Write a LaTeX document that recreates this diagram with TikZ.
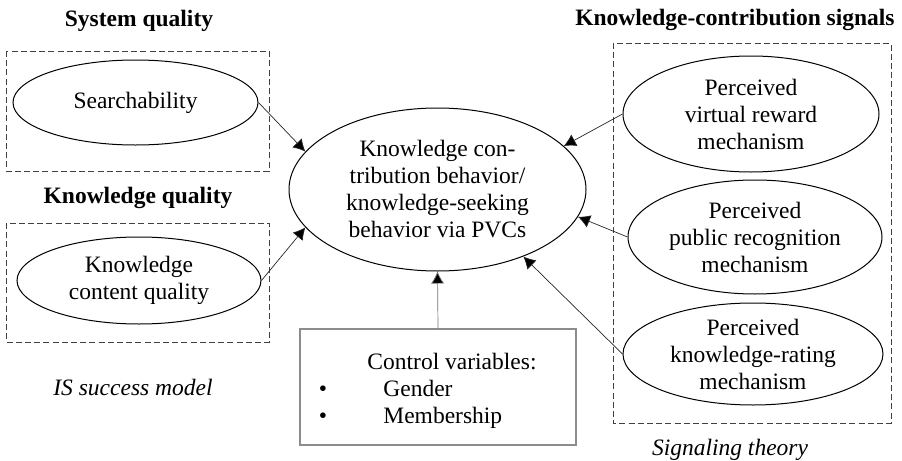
\documentclass[tikz,border=0pt]{standalone}
\usepackage{fontspec}
\setmainfont{Liberation Serif}
\usetikzlibrary{shapes.geometric,arrows.meta}
\begin{document}
\begin{tikzpicture}[x=0.5pt,y=-0.5pt,
  every node/.style={font=\fontsize{11.75pt}{13.5pt}\selectfont},
  oval/.style={ellipse, draw=black, line width=0.5pt, inner sep=0pt, align=center},
  groupbox/.style={draw=black!75, line width=0.5pt, dash pattern=on 3pt off 1.6pt},
  ctrlbox/.style={draw=black!45, line width=0.6pt, inner sep=0pt,
    minimum width=138pt, minimum height=58pt},
  heading/.style={font=\fontsize{11.75pt}{13.5pt}\selectfont\bfseries},
  caption/.style={font=\fontsize{11.75pt}{13.5pt}\selectfont\itshape},
  link/.style={draw=black!85, line width=0.35pt,
    -{Latex[length=6pt,width=6.5pt,fill=black]}},
]
\useasboundingbox (0,0) rectangle (902,461);

% group frames
\draw[groupbox] (6,51) rectangle (269,171);
\draw[groupbox] (6,223) rectangle (269,342);
\draw[groupbox] (613,43) rectangle (891,423);

% headings and captions
\node[heading] (sysq) at (139,21) {System quality};
\node[heading] (knq) at (138,198) {Knowledge quality};
\node[heading] (kcs) at (735,20) {Knowledge-contribution signals};
\node[caption] (ism) at (133,387) {IS success model};
\node[caption] (sgt) at (730,450) {Signaling theory};

% constructs
\node[oval, minimum width=122.5pt, minimum height=42.5pt] (search) at (135.5,102.5) {Searchability};
\node[oval, minimum width=122pt, minimum height=43.5pt] (kcq) at (139,280.5) {Knowledge\\content quality};
\node[oval, minimum width=148.5pt, minimum height=81.5pt] (main) at (437.5,189.5)
  {Knowledge con-\\tribution behavior/\\knowledge-seeking\\behavior via PVCs};
\node[oval, minimum width=128pt, minimum height=58pt] (reward) at (751,114)
  {Perceived\\virtual reward\\mechanism};
\node[oval, minimum width=127pt, minimum height=57pt] (recog) at (755,237)
  {Perceived\\public recognition\\mechanism};
\node[oval, minimum width=130pt, minimum height=51pt] (rating) at (753,354)
  {Perceived\\knowledge-rating\\mechanism};

% control variables
\node[ctrlbox] (ctrl) at (438,387) {};
\node[anchor=base] (ctitle) at (452,369) {Control variables:};
\node[anchor=base] (b1) at (323,396) {\textbullet};
\node[anchor=base west, inner sep=0pt] (gender) at (383,396) {Gender};
\node[anchor=base] (b2) at (323,423) {\textbullet};
\node[anchor=base west, inner sep=0pt] (member) at (383,423) {Membership};

% paths
\draw[link] (search.east) -- (main.164.6);
\draw[link] (kcq.east) -- (main.196.8);
\draw[link, draw=black!55] (ctrl.north) -- (main.south);
\draw[link] (reward.west) -- (main.19.5);
\draw[link] (recog.west) -- (main.349.5);
\draw[link] (rating.west) -- (main.322.9);
\end{tikzpicture}
\end{document}
